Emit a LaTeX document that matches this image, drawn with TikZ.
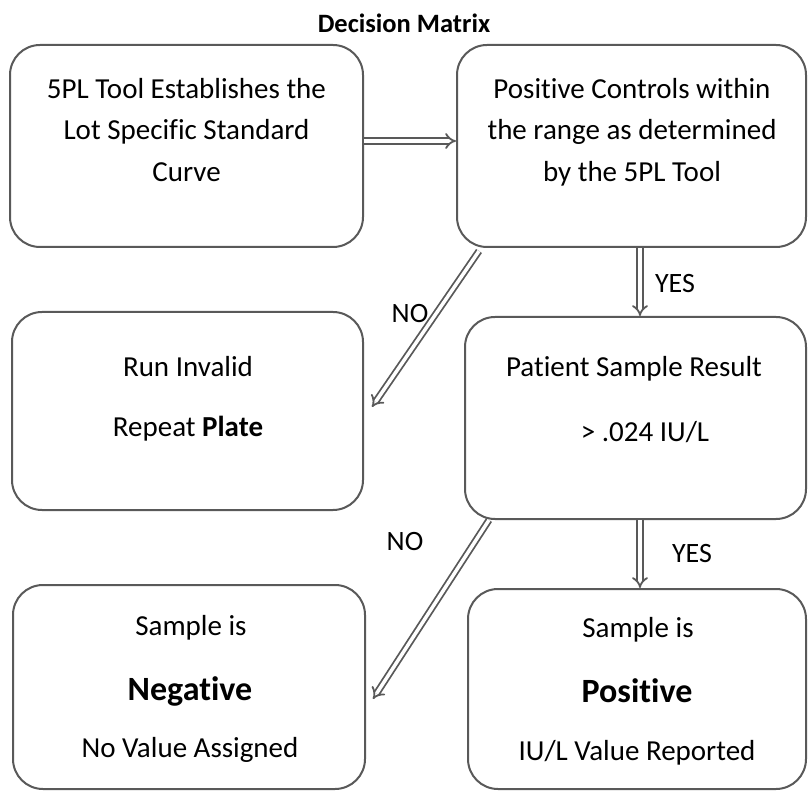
\documentclass[tikz,border=0pt]{standalone}
\usepackage{fontspec}
\setmainfont{Carlito}[Ligatures=NoCommon]
\usetikzlibrary{arrows.meta}
\definecolor{edgegray}{HTML}{595959}
\begin{document}
\begin{tikzpicture}[x=1pt,y=1pt,
  box/.style={draw=edgegray, line width=2pt, rounded corners=30pt, inner sep=0pt},
  txt/.style={anchor=base, inner sep=0pt, font=\fontsize{29}{34}\selectfont},
  big/.style={anchor=base, inner sep=0pt, font=\fontsize{34}{40}\selectfont\bfseries},
  lbl/.style={anchor=base, inner sep=0pt, font=\fontsize{28}{33}\selectfont},
  flow/.style={draw=edgegray, double=white, double distance=3.5pt, line width=1.8pt, -{Implies[scale=1.3]}}
]
\useasboundingbox (0,0) rectangle (809,-791);

\node[anchor=base, inner sep=0pt, font=\fontsize{26.5}{31}\selectfont\bfseries] (title) at (404,-33) {Decision Matrix};

\node[box, minimum width=353, minimum height=202] (A) at (186.5,-146) {};
\node[box, minimum width=349, minimum height=202] (B) at (631.5,-146) {};
\node[box, minimum width=351, minimum height=198] (C) at (187.5,-411) {};
\node[box, minimum width=341, minimum height=202] (D) at (635.5,-418) {};
\node[box, minimum width=352, minimum height=204] (E) at (189,-687) {};
\node[box, minimum width=338, minimum height=200] (F) at (637,-689) {};

% texts
\node[txt] (a1) at (186.5,-99) {5PL Tool Establishes the};
\node[txt] (a2) at (186.5,-140) {Lot Specific Standard};
\node[txt] (a3) at (186.5,-182) {Curve};

\node[txt] (b1) at (632,-99) {Positive Controls within};
\node[txt] (b2) at (632,-140) {the range as determined};
\node[txt] (b3) at (632,-182) {by the 5PL Tool};

\node[txt] (c1) at (188,-377) {Run Invalid};
\node[txt] (c2) at (188,-437) {Repeat \textbf{Plate}};

\node[txt] (d1) at (634,-377) {Patient Sample Result};
\node[txt] (d2) at (645,-442) {> .024 IU/L};

\node[txt] (e1) at (191,-635) {Sample is};
\node[big] (e2) at (190,-700) {Negative};
\node[txt] (e3) at (190,-757) {No Value Assigned};

\node[txt] (f1) at (638,-637) {Sample is};
\node[big] (f2) at (637,-702) {Positive};
\node[txt] (f3) at (637,-760) {IU/L Value Reported};

% connectors
\draw[flow] ([yshift=5pt]A.east) -- ([yshift=5pt]B.west);
\draw[flow] ([xshift=8.5pt]B.south) -- ([xshift=4.5pt]D.north);
\draw[flow] ([xshift=23pt,yshift=-3pt]B.south west) -- ([xshift=8pt,yshift=4pt]C.east);
\draw[flow] ([xshift=25pt]D.south west) -- ([xshift=7pt,yshift=-12pt]E.east);
\draw[flow] ([xshift=4.5pt]D.south) -- ([xshift=3pt]F.north);

% labels
\node[lbl] (no1) at (410,-323) {NO};
\node[lbl] (yes1) at (675,-293) {YES};
\node[lbl] (no2) at (405,-550) {NO};
\node[lbl] (yes2) at (692,-562) {YES};
\end{tikzpicture}
\end{document}
